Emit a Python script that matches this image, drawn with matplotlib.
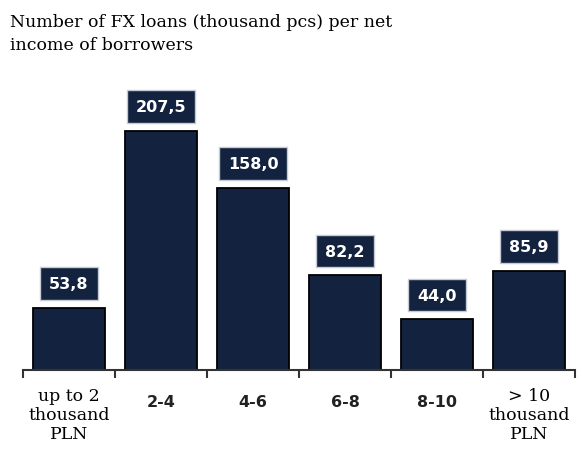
import matplotlib.pyplot as plt

# Liczba kredytów walutowych wg dochodu netto kredytobiorców
categories = ['up to 2\nthousand\nPLN', '2-4', '4-6', '6-8', '8-10', '> 10\nthousand\nPLN']
values = [53.8, 207.5, 158.0, 82.2, 44.0, 85.9]
value_labels = ['53,8', '207,5', '158,0', '82,2', '44,0', '85,9']
serif_labels = [True, False, False, False, False, True]

navy = '#13233f'

fig = plt.figure(figsize=(5.82, 4.52), dpi=100)
ax = fig.add_axes([23 / 582, 81 / 452, 552 / 582, 250 * 1.152 / 452])

x = list(range(len(values)))
ax.bar(x, values, width=0.78, color=navy, edgecolor='black', linewidth=1.3)

# etykiety wartości w ciemnych ramkach nad słupkami
for xi, v, lab in zip(x, values, value_labels):
    ax.annotate(lab, (xi, v), xytext=(0, 17.5), textcoords='offset points',
                ha='center', va='center', color='white', fontsize=11.5,
                fontweight='bold', family='DejaVu Sans',
                bbox=dict(boxstyle='square,pad=0.55', facecolor=navy,
                          edgecolor='#c5cad3', linewidth=1))

ax.set_xlim(-0.5, 5.5)
ax.set_ylim(0, 250)
for s in ['left', 'right', 'top']:
    ax.spines[s].set_visible(False)
ax.spines['bottom'].set_color('#333333')
ax.spines['bottom'].set_linewidth(1.5)
ax.set_yticks([])

# znaczniki na granicach kategorii
ax.set_xticks([i - 0.5 for i in range(7)], minor=True)
ax.set_xticks([])
ax.tick_params(axis='x', which='minor', direction='out', length=6,
               width=1.5, color='#333333')

trans = ax.get_xaxis_transform()
for xi, cat, serif in zip(x, categories, serif_labels):
    if serif:
        ax.text(xi, -0.058, cat, transform=trans, ha='center', va='top',
                family='DejaVu Serif', fontsize=12.5, linespacing=1.17,
                color='black')
    else:
        ax.text(xi, -0.085, cat, transform=trans, ha='center', va='top',
                family='DejaVu Sans', fontsize=11.5, fontweight='bold',
                color='#222222')

fig.text(10 / 582, 1 - 14 / 452,
         'Number of FX loans (thousand pcs) per net\nincome of borrowers',
         ha='left', va='top', family='DejaVu Serif', fontsize=12.5,
         linespacing=1.45)

fig.savefig('out.png', dpi=100)
